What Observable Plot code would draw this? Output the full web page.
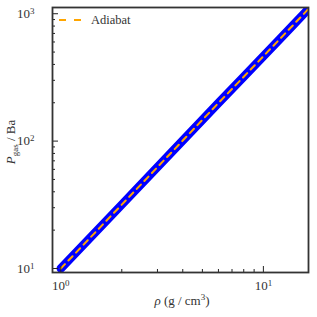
<!DOCTYPE html>
<html><head><meta charset="utf-8">
<script src="https://cdn.jsdelivr.net/npm/d3@7"></script>
<script src="https://cdn.jsdelivr.net/npm/@observablehq/plot@0.6"></script>
<style>body{margin:0;background:#fff} svg{display:block}</style>
</head><body><div id="chart"></div>
<script>
// simulation data (blue thick line)
const rho = [1, 2, 4, 6, 8, 10, 12, 14, 16, 17];
const pGas = [10, 31.7, 101, 199, 320, 464, 628, 812, 1016, 1126];
// adiabat (orange dashed line)
const adiabatRho = [1, 2, 4, 6, 8, 10, 12, 14, 16, 17];
const adiabatP = [10, 31.7, 101, 199, 320, 464, 628, 812, 1016, 1126];
// ticks
const xMajor = [1, 10];
const xMinor = [2, 3, 4, 5, 6, 7, 8, 9];
const yMajor = [10, 100, 1000];
const yMinor = [20, 30, 40, 50, 60, 70, 80, 90, 200, 300, 400, 500, 600, 700, 800, 900];
const legendLabel = "Adiabat";

const sup = {"0":"⁰","1":"¹","2":"²","3":"³","4":"⁴","5":"⁵","6":"⁶","7":"⁷","8":"⁸","9":"⁹","-":"⁻"};
const unsup = Object.fromEntries(Object.entries(sup).map(([k, v]) => [v, k]));
const fmt = d => "10" + String(Math.round(Math.log10(d))).split("").map(c => sup[c]).join("");

const sim = rho.map((r, i) => ({rho: r, p: pGas[i]}));
const adi = adiabatRho.map((r, i) => ({rho: r, p: adiabatP[i]}));

const font = "Liberation Serif, DejaVu Serif, serif";
const chart = Plot.plot({
  width: 317, height: 317,
  marginLeft: 52, marginRight: 9, marginTop: 7, marginBottom: 45,
  style: {fontFamily: font, fontSize: "13px", color: "#333", background: "#fff"},
  x: {type: "log", domain: [0.91, 16.7]},
  y: {type: "log", domain: [9.3, 1119]},
  marks: [
    Plot.line(sim, {x: "rho", y: "p", stroke: "#0000ff", strokeWidth: 8.5, clip: true}),
    Plot.line(adi, {x: "rho", y: "p", stroke: "#ffa500", strokeWidth: 2, strokeDasharray: "6,5", clip: true}),
    Plot.axisX({ticks: xMajor, tickSize: -6, tickPadding: 14, tickFormat: fmt, label: null, stroke: "#222", color: "#333", fontSize: 13}),
    Plot.axisX({ticks: xMinor, tickSize: -3, tickFormat: () => "", label: null, stroke: "#222"}),
    Plot.axisY({ticks: yMajor, tickSize: -6, tickPadding: 24, tickFormat: fmt, label: null, stroke: "#222", color: "#333", fontSize: 13}),
    Plot.axisY({ticks: yMinor, tickSize: -3, tickFormat: () => "", label: null, stroke: "#222"}),
    Plot.frame({stroke: "#333", strokeWidth: 1.8})
  ]
});
document.getElementById("chart").append(chart);

const svg = d3.select(chart);
// render superscript exponents in tick labels as raised tspans
svg.selectAll("text").each(function() {
  const t = this.textContent;
  if (/^10[⁰¹²³⁴⁵⁶⁷⁸⁹⁻]+$/.test(t)) {
    const exp = t.slice(2).split("").map(c => unsup[c]).join("");
    const el = d3.select(this);
    el.text(null);
    el.append("tspan").text("10");
    el.append("tspan").attr("dy", "-0.45em").attr("font-size", 9).text(exp);
  }
});
// x label
const xl = svg.append("text").attr("x", 182).attr("y", 305).attr("text-anchor", "middle")
  .attr("font-family", font).attr("font-size", 13).attr("fill", "#333");
xl.append("tspan").attr("font-style", "italic").text("ρ");
xl.append("tspan").text(" (g / cm");
xl.append("tspan").attr("dy", -5).attr("font-size", 9).text("3");
xl.append("tspan").attr("dy", 5).text(")");
// y label
const yl = svg.append("text").attr("transform", "translate(15,142) rotate(-90)").attr("text-anchor", "middle")
  .attr("font-family", font).attr("font-size", 13).attr("fill", "#333");
yl.append("tspan").attr("font-style", "italic").text("P");
yl.append("tspan").attr("dy", 3).attr("font-size", 9).text("gas");
yl.append("tspan").attr("dy", -3).text(" / Ba");
// legend
svg.append("line").attr("x1", 59).attr("x2", 83).attr("y1", 20).attr("y2", 20)
  .attr("stroke", "#ffa500").attr("stroke-width", 2).attr("stroke-dasharray", "7,8");
svg.append("text").attr("x", 91).attr("y", 24).attr("text-anchor", "start").attr("font-family", font).attr("font-size", 12.5)
  .attr("fill", "#333").text(legendLabel);
</script>
</body></html>
